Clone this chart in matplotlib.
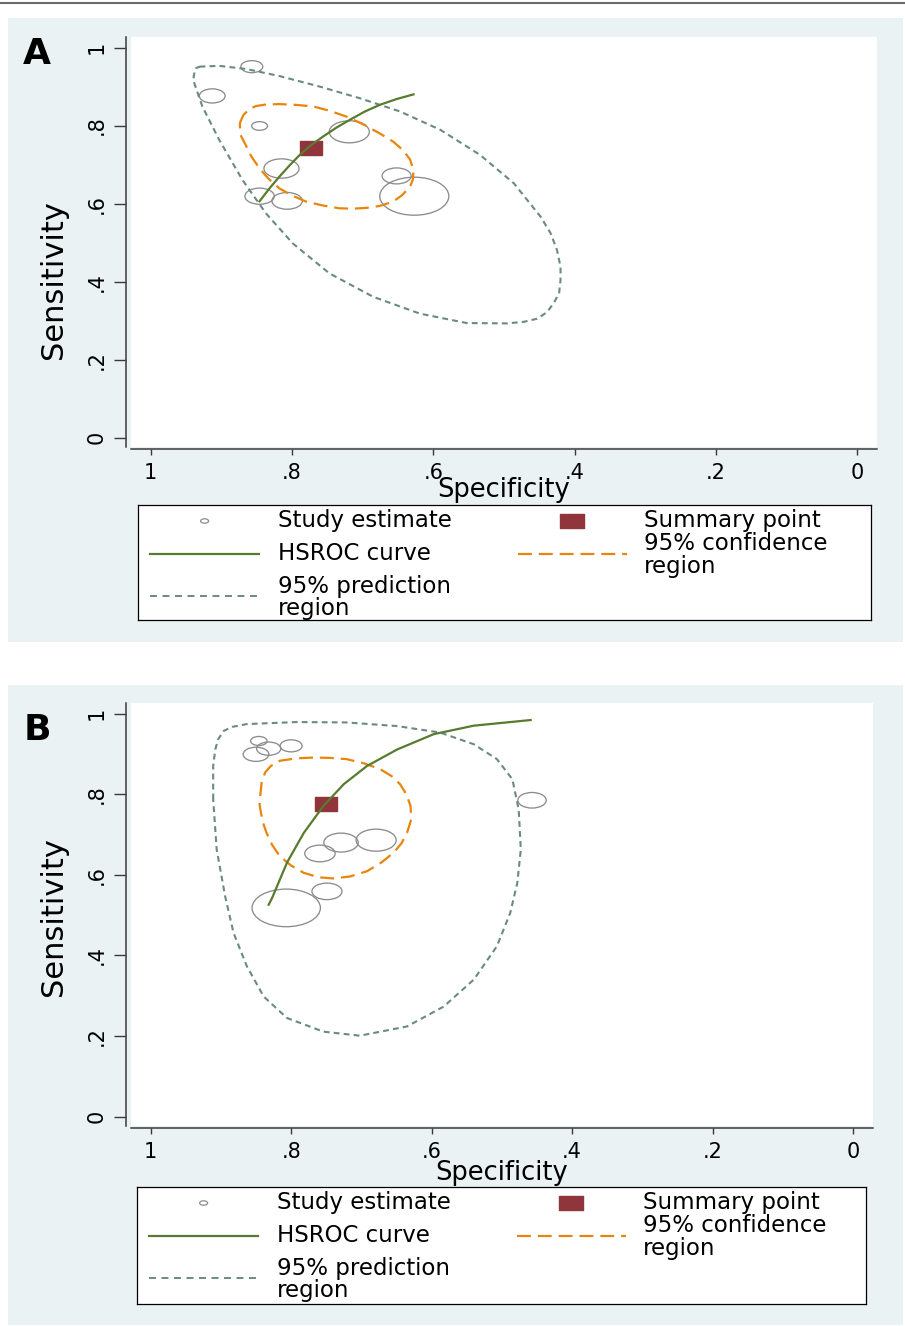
import numpy as np
import matplotlib
matplotlib.use("Agg")
import matplotlib.pyplot as plt
from matplotlib.path import Path
from matplotlib.patches import Rectangle
from matplotlib.lines import Line2D

plt.rcParams["font.family"] = ["DejaVu Sans"]
plt.rcParams["lines.scale_dashes"] = False

# ---- panel A -------------------------------------------------------------
a_spec = [0.857, 0.913, 0.846, 0.719, 0.815, 0.652, 0.627, 0.846, 0.807]
a_sens = [0.951, 0.876, 0.799, 0.784, 0.690, 0.671, 0.619, 0.619, 0.607]
a_weight = [48, 66, 25, 160, 123, 84, 476, 86, 92]
a_summary = (0.773, 0.742)

a_curve_spec = [0.846, 0.832, 0.818, 0.803, 0.789, 0.773, 0.756, 0.737, 0.718, 0.697, 0.676, 0.652, 0.628]
a_curve_sens = [0.606, 0.639, 0.669, 0.699, 0.725, 0.750, 0.772, 0.795, 0.815, 0.836, 0.853, 0.868, 0.880]

a_conf_spec = [0.874, 0.869, 0.860, 0.851, 0.837, 0.818, 0.794, 0.770, 0.747, 0.723, 0.699, 0.676,
               0.657, 0.643, 0.633, 0.628, 0.629, 0.633, 0.644, 0.657, 0.676, 0.695, 0.714, 0.733,
               0.756, 0.780, 0.799, 0.818, 0.833, 0.846, 0.858, 0.867, 0.873]
a_conf_sens = [0.806, 0.827, 0.843, 0.850, 0.854, 0.855, 0.853, 0.849, 0.838, 0.823, 0.803, 0.780,
               0.759, 0.737, 0.713, 0.686, 0.662, 0.643, 0.622, 0.605, 0.594, 0.589, 0.587, 0.588,
               0.595, 0.605, 0.620, 0.639, 0.663, 0.690, 0.722, 0.755, 0.776]

a_pred_spec = [0.931, 0.903, 0.865, 0.818, 0.761, 0.704, 0.647, 0.590, 0.534, 0.486, 0.448, 0.434,
               0.425, 0.420, 0.420, 0.422, 0.430, 0.439, 0.453, 0.472, 0.496, 0.553, 0.619, 0.685,
               0.747, 0.799, 0.837, 0.870, 0.903, 0.927, 0.940, 0.938, 0.936]
a_pred_sens = [0.951, 0.953, 0.945, 0.927, 0.900, 0.870, 0.836, 0.789, 0.725, 0.652, 0.566, 0.524,
               0.481, 0.438, 0.404, 0.370, 0.344, 0.322, 0.305, 0.297, 0.293, 0.294, 0.318, 0.361,
               0.421, 0.498, 0.575, 0.660, 0.763, 0.849, 0.917, 0.938, 0.947]

# ---- panel B -------------------------------------------------------------
b_spec = [0.846, 0.832, 0.850, 0.800, 0.759, 0.729, 0.679, 0.457, 0.807, 0.749]
b_sens = [0.932, 0.913, 0.899, 0.920, 0.653, 0.680, 0.686, 0.785, 0.518, 0.559]
b_weight = [27, 58, 66, 48, 92, 118, 160, 80, 466, 90]
b_summary = (0.751, 0.775)

b_curve_spec = [0.832, 0.827, 0.806, 0.782, 0.754, 0.725, 0.692, 0.649, 0.597, 0.540, 0.459]
b_curve_sens = [0.526, 0.543, 0.630, 0.704, 0.771, 0.825, 0.870, 0.911, 0.949, 0.970, 0.984]

b_conf_spec = [0.844, 0.842, 0.837, 0.829, 0.816, 0.792, 0.768, 0.744, 0.721, 0.697, 0.673, 0.657,
               0.645, 0.636, 0.630, 0.629, 0.635, 0.643, 0.654, 0.672, 0.692, 0.716, 0.740, 0.761,
               0.782, 0.800, 0.816, 0.827, 0.835, 0.840, 0.843, 0.845]
b_conf_sens = [0.796, 0.829, 0.854, 0.870, 0.883, 0.889, 0.891, 0.890, 0.887, 0.877, 0.862, 0.845,
               0.825, 0.800, 0.771, 0.738, 0.704, 0.678, 0.655, 0.630, 0.609, 0.596, 0.591, 0.594,
               0.605, 0.623, 0.646, 0.674, 0.704, 0.729, 0.754, 0.775]

b_pred_spec = [0.911, 0.911, 0.908, 0.904, 0.896, 0.884, 0.863, 0.792, 0.721, 0.649, 0.588, 0.540,
               0.507, 0.485, 0.476, 0.473, 0.478, 0.488, 0.507, 0.540, 0.583, 0.635, 0.702, 0.754,
               0.806, 0.839, 0.863, 0.882, 0.894, 0.906]
b_pred_sens = [0.787, 0.870, 0.911, 0.936, 0.957, 0.967, 0.974, 0.979, 0.978, 0.969, 0.953, 0.924,
               0.887, 0.837, 0.762, 0.663, 0.580, 0.506, 0.423, 0.340, 0.273, 0.224, 0.201, 0.211,
               0.245, 0.298, 0.373, 0.456, 0.547, 0.663]

ticks = [0, 0.2, 0.4, 0.6, 0.8, 1]
tick_labels = ["0", ".2", ".4", ".6", ".8", "1"]

BG = "#EAF2F3"
GRAY = "#8C8C8C"
MAROON = "#90353B"
GREEN = "#587B2E"
ORANGE = "#E8850C"
PRED = "#6A8A82"
AXIS = "#3a3a3a"

W, H = 905, 1326
fig = plt.figure(figsize=(W / 100, H / 100), dpi=100)


def frac(x0, y0, x1, y1):
    return [x0 / W, 1 - y1 / H, (x1 - x0) / W, (y1 - y0) / H]


circ = Path.unit_circle()
study_marker = Path(circ.vertices * [1.0, 0.55], circ.codes)
box_marker = Path([(-1, -0.59), (1, -0.59), (1, 0.59), (-1, 0.59), (-1, -0.59)],
                  [Path.MOVETO, Path.LINETO, Path.LINETO, Path.LINETO, Path.CLOSEPOLY])


def closed(xs, ys):
    return list(xs) + [xs[0]], list(ys) + [ys[0]]


def draw_panel(letter, letter_y, bg_box, plot_box, legend_box, spec, sens, weight, summary,
               curve, conf, pred, ylab_y, xlab_y):
    x0, y0, x1, y1 = bg_box
    fig.add_artist(Rectangle((x0 / W, 1 - y1 / H), (x1 - x0) / W, (y1 - y0) / H,
                             transform=fig.transFigure, facecolor=BG,
                             edgecolor="none", zorder=-1))
    fig.text(37 / W, 1 - letter_y / H, letter, fontsize=26, fontweight="bold",
             ha="center", va="center")

    ax = fig.add_axes(frac(*plot_box))
    ax.set_xlim(1.028, -0.028)
    ax.set_ylim(-0.023, 1.027)
    ax.spines[["top", "right"]].set_visible(False)
    ax.spines["left"].set_position(("outward", 3.6))
    ax.spines["bottom"].set_position(("outward", 1.4))
    for s in ("left", "bottom"):
        ax.spines[s].set_color(AXIS)
        ax.spines[s].set_linewidth(1.1)
    ax.set_xticks(ticks)
    ax.set_xticklabels(tick_labels, fontsize=15)
    ax.set_yticks(ticks)
    ax.set_yticklabels(tick_labels, fontsize=15, rotation=90, va="center")
    ax.tick_params(axis="x", length=4.3, width=1, pad=6, color=AXIS)
    ax.tick_params(axis="y", length=8.6, width=1, pad=5, color=AXIS)
    ax.set_xlabel("Specificity", fontsize=18.5)
    ax.xaxis.set_label_coords(0.5, xlab_y)
    ax.set_ylabel("Sensitivity", fontsize=22)
    ax.yaxis.set_label_coords(-0.085, ylab_y)

    ax.scatter(spec, sens, s=np.array(weight) * 5.2, marker=study_marker,
               facecolors="none", edgecolors=GRAY, linewidths=0.95, zorder=2)
    px, py = closed(*pred)
    ax.plot(px, py, color=PRED, lw=1.5, dashes=(4.2, 3), zorder=3)
    cx, cy = closed(*conf)
    ax.plot(cx, cy, color=ORANGE, lw=1.6, dashes=(10, 5), zorder=4)
    ax.scatter([summary[0]], [summary[1]], s=267, marker=box_marker,
               color=MAROON, zorder=5)
    ax.plot(curve[0], curve[1], color=GREEN, lw=1.6, zorder=6)

    # legend box
    lx0, ly0, lx1, ly1 = legend_box
    lg = fig.add_axes(frac(*legend_box))
    lg.set_xlim(0, lx1 - lx0)
    lg.set_ylim(ly1 - ly0, 0)
    lg.set_xticks([])
    lg.set_yticks([])
    for sp in lg.spines.values():
        sp.set_color("black")
        sp.set_linewidth(0.9)
    fs = 16.5
    lg.scatter([66.6], [16], s=33, marker=study_marker, facecolors="none",
               edgecolors=GRAY, linewidths=0.9)
    lg.text(139.7, 16, "Study estimate", va="center", fontsize=fs)
    lg.scatter([434], [16], s=275, marker=box_marker, color=MAROON)
    lg.text(506, 16, "Summary point", va="center", fontsize=fs)
    lg.plot([12, 121], [48.5, 48.5], color=GREEN, lw=1.6)
    lg.text(139.7, 48.5, "HSROC curve", va="center", fontsize=fs)
    lg.plot([380, 488.5], [48.5, 48.5], color=ORANGE, lw=1.6, dashes=(10, 5))
    lg.text(506, 50.5, "95% confidence\nregion", va="center", fontsize=fs,
            linespacing=1.0)
    lg.plot([12, 121], [91, 91], color=PRED, lw=1.4, dashes=(5, 4))
    lg.text(139.7, 92.5, "95% prediction\nregion", va="center", fontsize=fs,
            linespacing=1.0)


fig.add_artist(Line2D([0, 1], [1 - 2.7 / H] * 2, color="#6b6b6b", lw=1.5))

draw_panel("A", 54, (8, 18, 903, 642), (131, 37, 877, 446.7), (138, 505, 871, 620),
           a_spec, a_sens, a_weight, a_summary,
           (a_curve_spec, a_curve_sens), (a_conf_spec, a_conf_sens),
           (a_pred_spec, a_pred_sens), 0.407, -0.0732)
draw_panel("B", 730, (8, 685, 903, 1325), (131, 702.7, 872.7, 1126), (137, 1187, 866, 1304),
           b_spec, b_sens, b_weight, b_summary,
           (b_curve_spec, b_curve_sens), (b_conf_spec, b_conf_sens),
           (b_pred_spec, b_pred_sens), 0.494, -0.080)

fig.savefig("out.png", dpi=100)
